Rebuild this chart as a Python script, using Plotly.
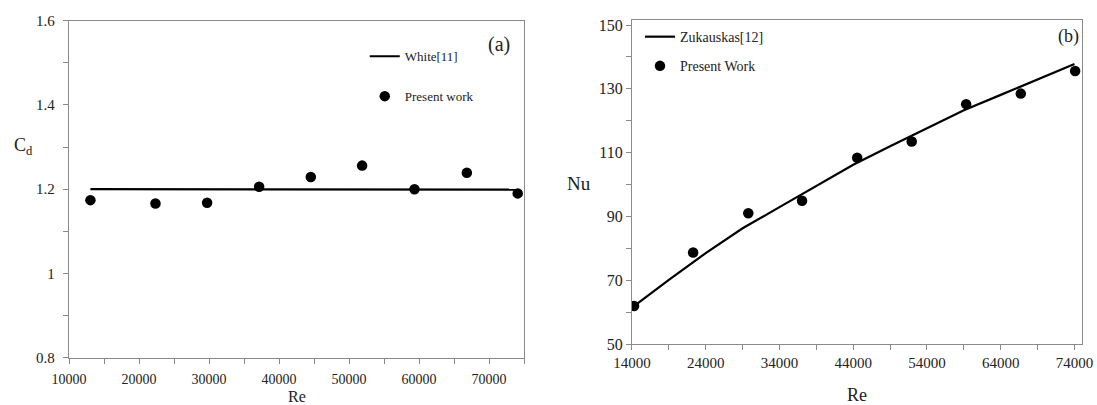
import plotly.graph_objects as go

# ---- panel (a): drag coefficient ----
re_a = [13060, 22350, 29730, 37160, 44540, 51870, 59350, 66830, 74100]
cd_present = [1.174, 1.166, 1.168, 1.206, 1.229, 1.256, 1.200, 1.239, 1.190]
re_white = [13060, 74100]
cd_white = [1.200, 1.199]

# ---- panel (b): Nusselt number ----
re_b = [14280, 22290, 29770, 37060, 44540, 51930, 59310, 66720, 74090]
nu_present = [61.9, 78.7, 91.0, 94.9, 108.4, 113.5, 125.2, 128.5, 135.6]
re_zuk = [14000, 19000, 24000, 29000, 34000, 39000, 44000, 49000, 54000,
          59000, 64000, 69000, 74000]
nu_zuk = [61.4, 70.1, 78.5, 86.3, 92.9, 99.5, 106.2, 112.0, 117.6,
          123.3, 128.1, 133.0, 137.8]

SERIF = "Liberation Serif, Times New Roman, serif"
AX = "#8a8a8a"
TXT = "#222222"

fig = go.Figure()

fig.add_trace(go.Scatter(x=re_white, y=cd_white, mode="lines", name="White[11]",
                         line=dict(color="black", width=2.2),
                         xaxis="x", yaxis="y", legend="legend", legendgroup="a1"))
fig.add_trace(go.Scatter(x=re_a, y=cd_present, mode="markers", name="Present work",
                         marker=dict(color="black", size=10.5),
                         xaxis="x", yaxis="y", legend="legend", legendgroup="a2"))
fig.add_trace(go.Scatter(x=re_zuk, y=nu_zuk, mode="lines", name="Zukauskas[12]",
                         line=dict(color="black", width=2.2),
                         xaxis="x2", yaxis="y2", legend="legend2", legendgroup="b1"))
fig.add_trace(go.Scatter(x=re_b, y=nu_present, mode="markers", name="Present Work",
                         marker=dict(color="black", size=10.5),
                         xaxis="x2", yaxis="y2", legend="legend2", legendgroup="b2"))

common = dict(showline=True, linecolor=AX, linewidth=1.3, mirror=True,
              ticks="outside", tickcolor=AX, ticklen=5, tickwidth=1.2,
              showgrid=False, zeroline=False, automargin=False)


def ann(text, x, y, size):
    return dict(text=text, x=x, y=y, xref="paper", yref="paper",
                xanchor="center", yanchor="middle", showarrow=False,
                font=dict(size=size, family=SERIF, color=TXT))


fig.update_layout(
    template="none",
    width=1097, height=405,
    margin=dict(l=0, r=0, t=0, b=0, pad=0, autoexpand=False),
    paper_bgcolor="white", plot_bgcolor="white",
    font=dict(family=SERIF, color=TXT),
    xaxis=dict(domain=[0.0629, 0.4777], range=[10000, 75000], tick0=10000, dtick=10000,
               tickformat="d", tickfont=dict(size=14, family=SERIF, color=TXT),
               ticklabelstandoff=3,
               minor=dict(dtick=5000, ticks="outside", ticklen=5, tickcolor=AX),
               anchor="y", **common),
    yaxis=dict(domain=[0.1168, 0.9489], range=[0.8, 1.6], dtick=0.2, tick0=0.8,
               tickfont=dict(size=15, family=SERIF, color=TXT),
               ticklabelstandoff=5,
               minor=dict(dtick=0.1, ticks="outside", ticklen=5, tickcolor=AX),
               anchor="x", **common),
    xaxis2=dict(domain=[0.5761, 0.9862], range=[14000, 75000], tick0=14000, dtick=10000,
                tickformat="d", tickfont=dict(size=15, family=SERIF, color=TXT),
                minor=dict(tick0=14000, dtick=5000, ticks="outside", ticklen=5, tickcolor=AX),
                anchor="y2", **common),
    yaxis2=dict(domain=[0.1506, 0.9506], range=[50, 151.57], tick0=50, dtick=20,
                tickfont=dict(size=16, family=SERIF, color=TXT),
                minor=dict(tick0=50, dtick=10, ticks="outside", ticklen=5, tickcolor=AX),
                anchor="x2", **common),
    legend=dict(x=0.3325, y=0.898, xanchor="left", yanchor="top",
                bgcolor="rgba(0,0,0,0)", tracegroupgap=20,
                font=dict(size=13, family=SERIF, color=TXT)),
    legend2=dict(x=0.5834, y=0.948, xanchor="left", yanchor="top",
                 bgcolor="rgba(0,0,0,0)", tracegroupgap=8,
                 font=dict(size=14, family=SERIF, color=TXT)),
    annotations=[
        ann("(a)", 0.4549, 0.891, 20),
        ann("(b)", 0.9736, 0.909, 18),
        ann("C<sub>d</sub>", 0.0210, 0.6395, 18),
        ann("Re", 0.2703, 0.0198, 16),
        ann("Nu", 0.5278, 0.5481, 19),
        ann("Re", 0.7816, 0.0247, 18),
    ],
)

fig.write_html(
    "out.html",
    config={"displayModeBar": False},
    post_script="document.body.style.margin='0';document.body.style.overflow='hidden';",
)
